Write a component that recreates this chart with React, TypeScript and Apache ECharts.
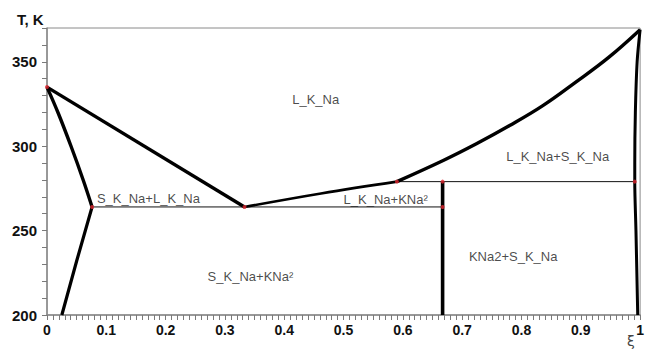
import React, { useEffect, useRef } from "react";
import * as echarts from "echarts";

// Phase diagram data (x = mole fraction ξ, y = T, K)
const liquidusLeft: number[][] = [[0, 335], [0.333, 264]];
const solidusLeftUpper: number[][] = [[0, 335], [0.019, 319.5], [0.041, 299.5], [0.061, 280], [0.076, 264]];
const solidusLeftLower: number[][] = [[0.076, 264], [0.05, 232], [0.025, 200]];
const liquidusMid: number[][] = [[0.333, 264], [0.462, 272], [0.59, 279]];
const liquidusRight: number[][] = [[0.59, 279], [0.668, 291.5], [0.724, 301.4], [0.78, 312.2], [0.836, 324], [0.891, 337.8], [0.947, 352.6], [1, 369]];
const solidusRight: number[][] = [[1, 369], [0.995, 350], [0.992, 320], [0.991, 290], [0.991, 279], [0.993, 250], [0.996, 200]];
const eutecticLine: number[][] = [[0.076, 264], [0.667, 264]];
const peritecticLine: number[][] = [[0.59, 279], [0.991, 279]];
const compoundLine: number[][] = [[0.667, 200], [0.667, 279]];
const nodePoints: number[][] = [[0, 335], [0.076, 264], [0.333, 264], [0.59, 279], [0.667, 279], [0.667, 264], [0.991, 279]];

const regionNames: string[] = ["L_K_Na", "L_K_Na+S_K_Na", "S_K_Na+L_K_Na", "L_K_Na+KNa²", "KNa2+S_K_Na", "S_K_Na+KNa²"];
const regionX: number[] = [0.453, 0.861, 0.171, 0.571, 0.786, 0.343];
const regionY: number[] = [327.5, 294, 268.8, 268.4, 234.6, 223];

const FONT = "'Liberation Sans', Arial, sans-serif";

export default function App() {
  const ref = useRef<HTMLDivElement>(null);
  useEffect(() => {
    if (!ref.current) return;
    const chart = echarts.init(ref.current, undefined, { renderer: "svg" });
    const thick = (data: number[][], width = 3.2, smooth: boolean | number = 0.4) => ({
      type: "line",
      data,
      smooth,
      symbol: "none",
      clip: false,
      lineStyle: { color: "#000", width },
      z: 3,
    });
    chart.setOption({
      animation: false,
      backgroundColor: "#fff",
      grid: { left: 47, right: 2, top: 28, bottom: 39, show: true, borderColor: "#8a8a8a", borderWidth: 1 },
      xAxis: {
        type: "value",
        min: 0,
        max: 1,
        interval: 0.1,
        axisLine: { lineStyle: { color: "#8a8a8a", width: 1.5 } },
        axisTick: { show: true, length: 5, lineStyle: { color: "#7a7a7a", width: 1 } },
        minorTick: { show: true, splitNumber: 10, length: 5, lineStyle: { color: "#7a7a7a", width: 1 } },
        splitLine: { show: false },
        axisLabel: {
          color: "#111",
          fontWeight: "bold",
          fontSize: 14,
          fontFamily: FONT,
          margin: 8,
          formatter: (v: number) => {
            const r = Math.round(v * 10);
            if (r === 0) return "0";
            if (r === 10) return "1";
            return (r / 10).toFixed(1);
          },
        },
      },
      yAxis: {
        type: "value",
        min: 200,
        max: 370,
        interval: 10,
        axisLine: { show: true, lineStyle: { color: "#8a8a8a", width: 1.5 } },
        axisTick: { show: true, length: 5, lineStyle: { color: "#7a7a7a", width: 1 } },
        splitLine: { show: false },
        axisLabel: {
          color: "#111",
          fontWeight: "bold",
          fontSize: 15,
          fontFamily: FONT,
          margin: 10,
          formatter: (v: number) => (Math.round(v) % 50 === 0 && v < 370 ? String(Math.round(v)) : ""),
        },
      },
      graphic: [
        { type: "text", left: 17, top: 12, style: { text: "T, K", font: `bold 15px ${FONT}`, fill: "#111" } },
        { type: "text", left: 627, top: 334, style: { text: "ξ", font: `14px 'DejaVu Sans', ${FONT}`, fill: "#444" } },
      ],
      series: [
        thick(liquidusLeft, 3.4, false),
        thick(solidusLeftUpper, 3.4),
        thick(solidusLeftLower, 3.2, false),
        thick(liquidusMid, 2.6),
        thick(liquidusRight, 3.4),
        thick(solidusRight, 3, 0.3),
        thick(compoundLine, 3.6, false),
        {
          type: "line", data: eutecticLine, symbol: "none", clip: false,
          lineStyle: { color: "#111", width: 1 }, z: 2,
        },
        {
          type: "line", data: peritecticLine, symbol: "none", clip: false,
          lineStyle: { color: "#111", width: 1 }, z: 2,
        },
        {
          type: "scatter", data: nodePoints, symbolSize: 4, clip: false,
          itemStyle: { color: "#e0262e" }, z: 5,
        },
        {
          type: "scatter",
          data: regionNames.map((n, i) => ({ value: [regionX[i], regionY[i]], name: n })),
          symbolSize: 0,
          z: 6,
          label: {
            show: true,
            position: "inside",
            formatter: (p: any) => p.name,
            color: "#1a1a1a",
            fontSize: 13,
            fontFamily: FONT,
          },
        },
      ],
    });
    return () => chart.dispose();
  }, []);
  return <div ref={ref} style={{ position: "fixed", left: 0, top: 0, width: 647, height: 354 }} />;
}
